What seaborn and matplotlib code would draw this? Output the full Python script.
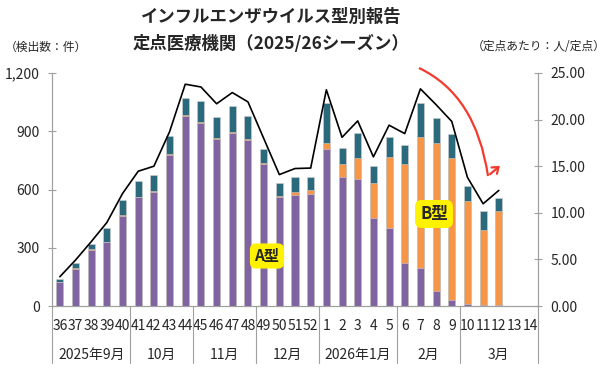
import numpy as np
import pandas as pd
import matplotlib
matplotlib.use('Agg')
import matplotlib.pyplot as plt
import seaborn as sns
from matplotlib.path import Path
from matplotlib.patches import FancyArrowPatch, PathPatch
from matplotlib.ticker import FuncFormatter
import matplotlib.transforms as mtransforms

# --- データ ---
weeks = [str(w) for w in range(36, 53)] + [str(w) for w in range(1, 15)]
weeks_data = weeks[:29]  # 13, 14週はまだ空

type_a = [122, 188, 288, 329, 462, 559, 585, 778, 981, 943, 862, 893, 857, 732,
          562, 574, 578, 808, 663, 656, 452, 401, 219, 197, 78, 29, 12, 4, 5]
type_b = [2, 6, 3, 3, 8, 4, 7, 3, 3, 3, 4, 3, 2, 3,
          7, 12, 20, 29, 69, 107, 183, 367, 513, 675, 763, 734, 527, 385, 482]
total = [139, 221, 319, 403, 545, 645, 675, 873, 1071, 1054, 975, 1029, 981, 811,
         634, 665, 665, 1045, 815, 889, 720, 872, 829, 1048, 967, 886, 618, 489, 556]
per_sentinel = [3.14, 4.93, 6.90, 8.96, 12.07, 14.46, 15.00, 18.70, 23.80, 23.50,
                21.70, 22.90, 21.90, 18.00, 14.10, 14.75, 14.80, 23.20, 18.10, 19.86,
                16.00, 19.40, 18.50, 23.30, 21.60, 19.80, 13.80, 10.97, 12.40]

months = ['2025年9月', '10月', '11月', '12月', '2026年1月', '2月', '3月']
month_weeks = [5, 4, 4, 4, 5, 4, 5]

COL_A = '#8064A2'
COL_B = '#F79646'
COL_OTHER = '#2A6A7C'

df = pd.DataFrame({'week': weeks_data, 'A': type_a, 'B': type_b, 'total': total})
df['AB'] = df['A'] + df['B']

sns.set_style('white')
plt.rcParams['font.family'] = ['Noto Sans CJK JP', 'DejaVu Sans']

fig = plt.figure(figsize=(6.09, 3.75), dpi=100)
ax = fig.add_axes([52/609, 69/375, 486/609, 233/375])

# 積み上げ棒（上から重ねて描く）
bar_kw = dict(order=weeks, width=0.45, edgecolor='#D0D0D0', linewidth=0.4, ax=ax)
sns.barplot(data=df, x='week', y='total', color=COL_OTHER, saturation=1, **bar_kw)
sns.barplot(data=df, x='week', y='AB', color=COL_B, saturation=1, **bar_kw)
sns.barplot(data=df, x='week', y='A', color=COL_A, saturation=1, **bar_kw)

ax.set_ylim(0, 1200)
ax.set_xlim(-0.5, len(weeks) - 0.5)
ax.set_yticks([0, 300, 600, 900, 1200])
ax.yaxis.set_major_formatter(FuncFormatter(lambda v, p: f'{int(v):,}'))
ax.set_xlabel('')
ax.set_ylabel('')
ax.tick_params(axis='y', labelsize=10, direction='inout', length=6, color='#A0A0A0', pad=6)
ax.tick_params(axis='x', labelsize=10, length=0, pad=9)
for s in ['left', 'bottom', 'right']:
    ax.spines[s].set_color('#A0A0A0')
    ax.spines[s].set_linewidth(0.8)
ax.spines['top'].set_visible(False)

# 定点あたり（第2軸）
ax2 = ax.twinx()
sns.lineplot(x=np.arange(len(per_sentinel)), y=per_sentinel, color='black',
             linewidth=1.2, ax=ax2)
ax2.set_ylim(0, 25)
ax2.set_yticks([0, 5, 10, 15, 20, 25])
ax2.yaxis.set_major_formatter(FuncFormatter(lambda v, p: f'{v:.2f}'))
ax2.tick_params(axis='y', labelsize=10, direction='inout', length=6, color='#A0A0A0', pad=6)
for s in ['left', 'bottom', 'right']:
    ax2.spines[s].set_color('#A0A0A0')
    ax2.spines[s].set_linewidth(0.8)
ax2.spines['top'].set_visible(False)

# 月の区切りとラベル
trans = mtransforms.blended_transform_factory(ax.transData, ax.transAxes)
bounds = np.concatenate([[0], np.cumsum(month_weeks)]) - 0.5
for b in bounds:
    ax.plot([b, b], [0, -0.245], transform=trans, color='#A0A0A0', lw=0.8, clip_on=False)
for m, lo, hi in zip(months, bounds[:-1], bounds[1:]):
    ax.text((lo + hi) / 2, -0.21, m, transform=trans, ha='center', va='center', fontsize=10)

# タイトルと軸の単位
fig.text(0.445, 0.955, 'インフルエンザウイルス型別報告', ha='center', va='center',
         fontsize=12.5, fontweight='bold')
fig.text(0.445, 0.882, '定点医療機関（2025/26シーズン）', ha='center', va='center',
         fontsize=12.5, fontweight='bold')
fig.text(0.008, 0.875, '（検出数：件）', ha='left', va='center', fontsize=8.5)
fig.text(0.995, 0.875, '（定点あたり：人/定点）', ha='right', va='center', fontsize=8.5)

# 型ラベル
box = dict(boxstyle='round,pad=0.3,rounding_size=0.4', fc='#FFF200', ec='none')
fig.text(267/609, 1 - 256/375, 'A型', ha='center', va='center', fontsize=11,
         fontweight='bold', bbox=box)
fig.text(434/609, 1 - 214/375, 'B型', ha='center', va='center', fontsize=12,
         fontweight='bold', bbox=box)

# 赤い矢印（減少傾向）
def px(x, y):
    return (x, 375 - y)

curve = Path([px(419, 68), px(476, 95), px(488, 176)],
             [Path.MOVETO, Path.CURVE3, Path.CURVE3])
fig.patches.append(PathPatch(curve, transform=mtransforms.IdentityTransform(),
                             fc='none', ec='#F23A2E', lw=1.6))
fig.patches.append(FancyArrowPatch(px(488, 176), px(502, 164),
                                   transform=mtransforms.IdentityTransform(),
                                   arrowstyle='->,head_length=4,head_width=3',
                                   color='#F23A2E', lw=1.6))

fig.savefig('out.png', dpi=100)
